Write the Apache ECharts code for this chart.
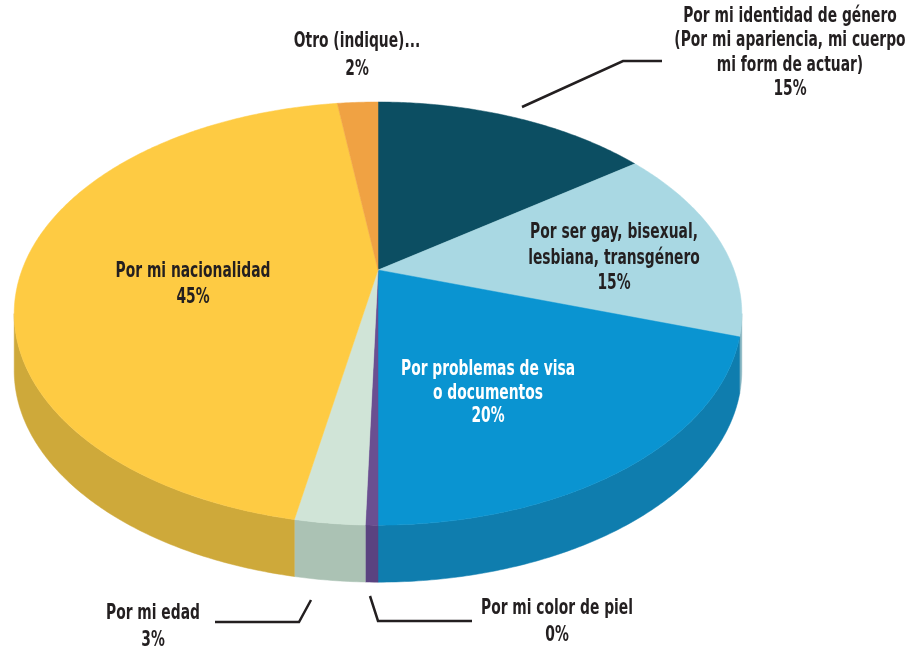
<!DOCTYPE html>
<html>
<head>
<meta charset="utf-8">
<script src="https://cdn.jsdelivr.net/npm/echarts@6/dist/echarts.min.js"></script>
<style>
  html, body { margin: 0; padding: 0; background: #fff; }
  #chart { width: 910px; height: 653px; }
</style>
</head>
<body>
<div id="chart"></div>
<script>
// slices, clockwise from 12 o'clock
const categories = [
  'Por mi identidad de género\n(Por mi apariencia, mi cuerpo\nmi form de actuar)',
  'Por ser gay, bisexual,\nlesbiana, transgénero',
  'Por problemas de visa\no documentos',
  'Por mi color de piel',
  'Por mi edad',
  'Por mi nacionalidad',
  'Otro (indique)...'
]
const values = [15.0, 15.0, 20.0, 0.45, 2.55, 44.8, 2.2]
const topColors = ['#0c4e62', '#a9d8e3', '#0a94d1', '#6a4f91', '#d0e4d7', '#fecb43', '#f0a243']
const sideColors = ['#0a3f50', '#86b5c0', '#0f7dae', '#5a4380', '#abc2b4', '#cea93a', '#c9862f']

// fake 3d perspective of the pie
const cx = 378
const cy = 270
const Ax = 356
const Ay = 202.6
const k = 0.206
const depth = 57

const total = values.reduce((a, b) => a + b, 0)
const starts = []
const ends = []
let acc = 0
values.forEach((v) => {
  starts.push(acc / total * Math.PI * 2)
  acc += v
  ends.push(acc / total * Math.PI * 2)
})

function proj (a) {
  const d = 1 + k * Math.cos(a)
  return [cx + Ax * Math.sin(a) / d, cy - Ay * Math.cos(a) / d]
}
function projLow (a) {
  const p = proj(a)
  return [p[0], p[1] + depth]
}
function arc (a0, a1, fn) {
  const pts = []
  const n = Math.max(2, Math.ceil((a1 - a0) / 0.01))
  for (let i = 0; i <= n; i++) {
    pts.push(fn(a0 + (a1 - a0) * i / n))
  }
  return pts
}

// visible part of the side wall
const sideFrom = Math.acos(-k)
const sideTo = Math.PI * 2 - sideFrom

function renderSide (params) {
  const i = params.dataIndex
  const a0 = Math.max(starts[i], sideFrom)
  const a1 = Math.min(ends[i], sideTo)
  if (a1 <= a0) return null
  const pts = arc(a0, a1, proj).concat(arc(a0, a1, projLow).reverse())
  return {
    type: 'polygon',
    shape: { points: pts },
    style: { fill: sideColors[i], stroke: sideColors[i], lineWidth: 0.5 }
  }
}

function renderTop (params) {
  const i = params.dataIndex
  const pts = [[cx, cy]].concat(arc(starts[i], ends[i], proj))
  return {
    type: 'polygon',
    shape: { points: pts },
    style: { fill: topColors[i], stroke: topColors[i], lineWidth: 0.5 }
  }
}

const font = '"Liberation Sans Narrow", "DejaVu Sans Condensed", sans-serif'
// label anchor (center x, top y), line height, text colour
const labelPos = [[790, 4], [614, 220], [488, 358], [557, 595], [153, 600], [193, 258], [357, 27]]
const labelLine = [24.5, 25.5, 23.5, 27, 27, 26, 28]
const labelColor = ['#231f20', '#231f20', '#ffffff', '#231f20', '#231f20', '#231f20', '#231f20']

const labels = categories.map((name, i) => ({
  type: 'text',
  z: 10,
  x: labelPos[i][0],
  y: labelPos[i][1],
  scaleX: 0.7,
  style: {
    x: 0,
    y: 0,
    text: name + '\n' + Math.round(values[i]) + '%',
    fill: labelColor[i],
    fontFamily: font,
    fontWeight: 'bold',
    fontSize: 22,
    lineHeight: labelLine[i],
    align: 'center',
    verticalAlign: 'top'
  }
}))

const leaders = [
  [[522, 107], [623, 61], [662, 61]],
  [[215, 622], [299, 622], [311, 600]],
  [[370, 596], [378, 621], [472, 621]]
].map((pts) => ({
  type: 'polyline',
  z: 10,
  shape: { points: pts },
  style: { stroke: '#231f20', lineWidth: 2.5, fill: null }
}))

const chart = echarts.init(document.getElementById('chart'))
chart.setOption({
  animation: false,
  series: [
    {
      type: 'custom',
      coordinateSystem: 'none',
      z: 1,
      data: values,
      renderItem: renderSide
    },
    {
      type: 'custom',
      coordinateSystem: 'none',
      z: 2,
      data: values,
      renderItem: renderTop
    }
  ],
  graphic: labels.concat(leaders)
})
</script>
</body>
</html>
